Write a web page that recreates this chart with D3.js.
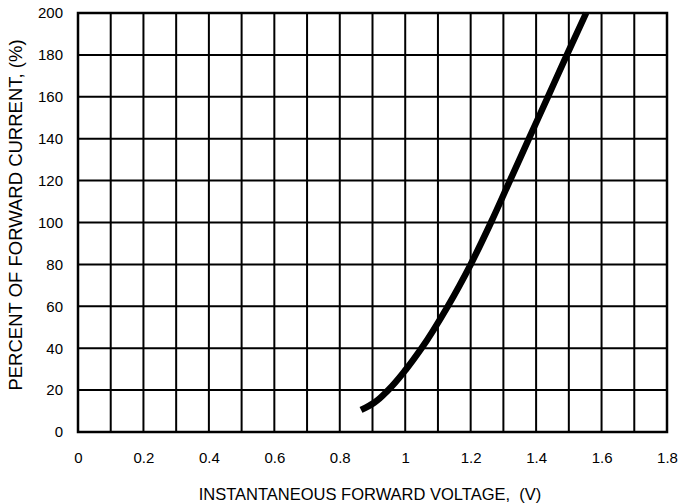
<!DOCTYPE html>
<html>
<head>
<meta charset="utf-8">
<script src="https://cdn.jsdelivr.net/npm/d3@7"></script>
<style>
  body { margin: 0; background: #fff; }
  text { font-family: "Liberation Sans", Arial, sans-serif; }
</style>
</head>
<body>
<div id="chart-area"></div>
<script>
// forward voltage (V) vs percent of forward current (%)
const voltage = [0.865, 0.905, 0.948, 1.003, 1.05, 1.13, 1.2, 1.262, 1.32, 1.378, 1.436, 1.494, 1.553];
const current = [10.5, 14, 20, 30, 40, 60, 80, 100, 120, 140, 160, 180, 200];
const xTickLabels = [0, 0.2, 0.4, 0.6, 0.8, 1, 1.2, 1.4, 1.6, 1.8];
const yTickLabels = [0, 20, 40, 60, 80, 100, 120, 140, 160, 180, 200];

const data = voltage.map((v, i) => ({ v: v, c: current[i] }));

const W = 678, H = 503;
const margin = { left: 78, right: 11, top: 13, bottom: 71 };

const svg = d3.select("#chart-area").append("svg")
    .attr("width", W)
    .attr("height", H)

const x = d3.scaleLinear()
    .domain([0, 1.8])
    .range([margin.left, W - margin.right])

const y = d3.scaleLinear()
    .domain([0, 200])
    .range([H - margin.bottom, margin.top])

// grid: vertical every 0.1 V, horizontal every 20 %
const xGrid = d3.range(0, 19).map((i) => i / 10);

svg.append("g")
    .selectAll("line")
    .data(xGrid)
    .enter()
    .append("line")
    .attr("x1", (d) => x(d))
    .attr("x2", (d) => x(d))
    .attr("y1", y(0))
    .attr("y2", y(200))
    .attr("stroke", "#000")
    .attr("stroke-width", 2)

svg.append("g")
    .selectAll("line")
    .data(yTickLabels)
    .enter()
    .append("line")
    .attr("x1", x(0))
    .attr("x2", x(1.8))
    .attr("y1", (d) => y(d))
    .attr("y2", (d) => y(d))
    .attr("stroke", "#000")
    .attr("stroke-width", 2)

svg.append("rect")
    .attr("x", x(0))
    .attr("y", y(200))
    .attr("width", x(1.8) - x(0))
    .attr("height", y(0) - y(200))
    .attr("fill", "none")
    .attr("stroke", "#000")
    .attr("stroke-width", 2.5)

// axes (labels only)
const xAxis = svg.append("g")
    .attr("transform", `translate(0,${y(0) + 17})`)
    .call(d3.axisBottom(x).tickValues(xTickLabels).tickSize(0).tickFormat(d3.format("")))
xAxis.select(".domain").remove()
xAxis.selectAll("text").attr("font-size", 15).attr("fill", "#000")

const yAxis = svg.append("g")
    .attr("transform", `translate(${x(0) - 12},0)`)
    .call(d3.axisLeft(y).tickValues(yTickLabels).tickSize(0))
yAxis.select(".domain").remove()
yAxis.selectAll("text").attr("font-size", 15).attr("fill", "#000").attr("dy", "0.32em")

svg.append("text")
    .attr("x", 370)
    .attr("y", 500)
    .attr("text-anchor", "middle")
    .attr("font-size", 16.5)
    .style("white-space", "pre")
    .text("INSTANTANEOUS FORWARD VOLTAGE,  (V)")

svg.append("text")
    .attr("transform", `translate(22,215) rotate(-90)`)
    .attr("text-anchor", "middle")
    .attr("font-size", 18.5)
    .text("PERCENT OF FORWARD CURRENT, (%)")

// curve
const line = d3.line()
    .x((d) => x(d.v))
    .y((d) => y(d.c))
    .curve(d3.curveMonotoneY)

svg.append("path")
    .datum(data)
    .attr("d", line)
    .attr("fill", "none")
    .attr("stroke", "#000")
    .attr("stroke-width", 6.5)
</script>
</body>
</html>
